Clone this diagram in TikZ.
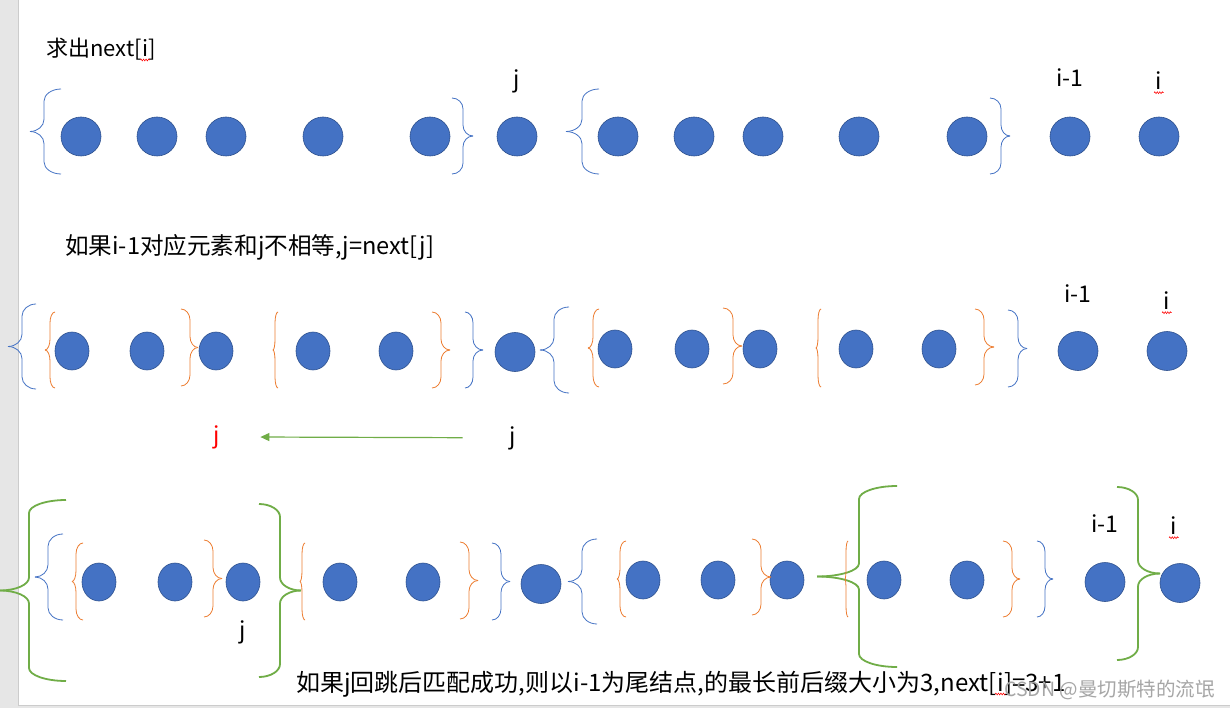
\documentclass[tikz,border=0pt]{standalone}
\usepackage{fontspec}
\setmainfont{Noto Sans CJK SC}
\usetikzlibrary{arrows.meta,shapes.geometric,positioning,decorations.pathmorphing}

\definecolor{dotblue}{HTML}{4472C4}
\definecolor{dotedge}{HTML}{2F528F}
\definecolor{brorange}{HTML}{ED7D31}
\definecolor{brgreen}{HTML}{70AD47}
\definecolor{pagegray}{HTML}{E6E6E6}

% brace: style, x tip, x spine, x ends, y top, y bottom
\newcommand{\curlybr}[6]{%
  \pgfmathsetmacro{\brym}{(#5+#6)/2}%
  \pgfmathsetmacro{\brrv}{min(13,(#6-#5)/7)}%
  \draw[#1] (#4,#5) .. controls ({#4-0.55*(#4-#3)},#5) and (#3,{#5+0.45*\brrv}) .. (#3,{#5+\brrv})
    -- (#3,{\brym-\brrv}) .. controls (#3,{\brym-0.45*\brrv}) and ({#2+0.55*(#3-#2)},\brym) .. (#2,\brym);
  \draw[#1] (#4,#6) .. controls ({#4-0.55*(#4-#3)},#6) and (#3,{#6-0.45*\brrv}) .. (#3,{#6-\brrv})
    -- (#3,{\brym+\brrv}) .. controls (#3,{\brym+0.45*\brrv}) and ({#2+0.55*(#3-#2)},\brym) .. (#2,\brym);
}
% red spell-check wave under a node
\newcommand{\squig}[1]{%
  \draw[squig] ([xshift=-1.5pt,yshift=-3pt]#1.base west) -- ([xshift=1.5pt,yshift=-3pt]#1.base east);
}

\begin{document}
\begin{tikzpicture}[x=1pt,y=-1pt,>={Triangle[length=9pt,width=8pt]},
    dot/.style={ellipse,fill=dotblue,draw=dotedge,line width=0.6pt,inner sep=0pt,minimum width=40pt,minimum height=39pt},
    sdot/.style={dot,minimum width=34pt,minimum height=38pt},
    txt/.style={inner sep=0pt,font=\fontsize{23}{28}\selectfont},
    title/.style={txt,font=\fontsize{22}{27}\selectfont},
    line2/.style={txt,font=\fontsize{23.6}{28}\selectfont},
    line3/.style={txt,font=\fontsize{24}{29}\selectfont},
    wmark/.style={inner sep=0pt,font=\fontsize{19.5}{24}\selectfont,text=black!35},
    bbr/.style={draw=dotblue,line width=0.8pt},
    obr/.style={draw=brorange,line width=0.8pt},
    gbr/.style={draw=brgreen,line width=1.8pt},
    squig/.style={red,line width=0.5pt,decorate,decoration={zigzag,segment length=2.5pt,amplitude=1pt}},
    arr/.style={->,draw=brgreen,line width=1.2pt,shorten <=47pt,shorten >=40pt}]

  % page
  \useasboundingbox (0,0) rectangle (1230,708);
  \fill[white] (0,0) rectangle (1230,708);
  \fill[pagegray] (0,0) rectangle (18,708);
  \fill[pagegray] (0,705) rectangle (1230,708);
  \draw[black!20] (18.5,0) -- (18.5,705) -- (1230,705);

  \node[title,anchor=base west] (T1) at (46,57) {求出next[};
  \node[title,anchor=base west] (T1i) at (T1.base east) {i};
  \node[title,anchor=base west] (T1e) at (T1i.base east) {]};
  \squig{T1i}

  % row 1
  \node[dot] (A1) at (81,136.5) {};
  \node[dot] (A2) at (157,136.5) {};
  \node[dot] (A3) at (226,136.5) {};
  \node[dot] (A4) at (323,136.5) {};
  \node[dot] (A5) at (430,136.5) {};
  \node[dot] (A6) at (517,136.5) {};
  \node[dot] (A7) at (618,136.5) {};
  \node[dot] (A8) at (694,136.5) {};
  \node[dot] (A9) at (763,136.5) {};
  \node[dot] (A10) at (859,136.5) {};
  \node[dot] (A11) at (967,136.5) {};
  \node[dot] (A12) at (1070,136.5) {};
  \node[dot] (A13) at (1159,136.5) {};
  \node[txt,above=29pt of A6,anchor=base] (J1) {j};
  \node[txt,above=30pt of A12,anchor=base] (Im1) {i-1};
  \node[txt,above=27pt of A13,anchor=base] (I1) {i};
  \squig{I1}
  \curlybr{bbr}{30}{44}{61}{89}{174}
  \curlybr{bbr}{473}{463}{452}{98}{174}
  \curlybr{bbr}{566}{582}{599}{89}{174}
  \curlybr{bbr}{1010}{1001}{990}{98}{174}

  \node[line2,anchor=base west] (T2) at (65,255) {如果i-1对应元素和j不相等,j=next[j]};

  % row 2
  \node[sdot] (B1) at (72,351) {};
  \node[sdot] (B2) at (147,351) {};
  \node[sdot] (B3) at (216,351) {};
  \node[sdot] (B4) at (313,351) {};
  \node[sdot] (B5) at (396,351) {};
  \node[dot] (B6) at (515,352) {};
  \node[sdot] (B7) at (615,349) {};
  \node[sdot] (B8) at (692,349) {};
  \node[sdot] (B9) at (760,349) {};
  \node[sdot] (B10) at (856,349) {};
  \node[sdot] (B11) at (939,349) {};
  \node[dot] (B12) at (1078,351) {};
  \node[dot] (B13) at (1167,351) {};
  \node[txt,above=28.5pt of B12,anchor=base] (Im2) {i-1};
  \node[txt,above=21.5pt of B13,anchor=base] (I2) {i};
  \squig{I2}
  \curlybr{bbr}{8}{22}{36}{304}{389}
  \curlybr{obr}{45}{50}{55}{312}{388}
  \curlybr{obr}{198}{190}{181}{309}{386}
  \curlybr{obr}{273}{275}{278}{312}{388}
  \curlybr{obr}{450}{441}{432}{312}{388}
  \curlybr{bbr}{483}{473}{465}{312}{388}
  \curlybr{bbr}{540}{554}{569}{307}{393}
  \curlybr{obr}{588}{593}{599}{309}{387}
  \curlybr{obr}{742}{733}{723}{308}{384}
  \curlybr{obr}{816}{818}{821}{309}{387}
  \curlybr{obr}{994}{984}{975}{309}{385}
  \curlybr{bbr}{1027}{1018}{1008}{310}{387}

  \node[txt,text=red,anchor=base] (Jr) at (217,443) {j};
  \node[txt,anchor=base] (Jb) at (513,444) {j};
  \draw[arr] (Jb) -- (Jr);

  % row 3
  \node[sdot] (C1) at (99,582) {};
  \node[sdot] (C2) at (175,582) {};
  \node[sdot] (C3) at (243,582) {};
  \node[sdot] (C4) at (340,582) {};
  \node[sdot] (C5) at (423,582) {};
  \node[dot] (C6) at (541,584) {};
  \node[sdot] (C7) at (643,580) {};
  \node[sdot] (C8) at (718,580) {};
  \node[sdot] (C9) at (787,580) {};
  \node[sdot] (C10) at (884,580) {};
  \node[sdot] (C11) at (967,580) {};
  \node[dot] (C12) at (1105,582) {};
  \node[dot] (C13) at (1180,583) {};
  \node[txt,below=37pt of C3,anchor=base] (J3) {j};
  \node[txt,above=29.5pt of C12,anchor=base] (Im3) {i-1};
  \node[txt,above=28.5pt of C13,anchor=base,xshift=-6pt] (I3) {i};
  \squig{I3}
  \curlybr{gbr}{0}{29}{66}{500}{681}
  \curlybr{bbr}{35}{48}{63}{534}{620}
  \curlybr{obr}{72}{76}{83}{543}{620}
  \curlybr{obr}{222}{213}{204}{540}{617}
  \curlybr{gbr}{301}{280}{259}{504}{677}
  \curlybr{obr}{300}{302}{305}{543}{620}
  \curlybr{obr}{478}{469}{460}{542}{619}
  \curlybr{bbr}{510}{501}{492}{543}{620}
  \curlybr{bbr}{568}{582}{597}{539}{624}
  \curlybr{obr}{617}{620}{626}{541}{617}
  \curlybr{obr}{771}{761}{752}{539}{615}
  \curlybr{gbr}{817}{859}{897}{486}{667}
  \curlybr{obr}{845}{846}{848}{541}{617}
  \curlybr{obr}{1020}{1012}{1003}{541}{617}
  \curlybr{bbr}{1053}{1045}{1037}{541}{617}
  \curlybr{gbr}{1160}{1138}{1117}{487}{660}

  \node[line3,anchor=base west] (T3) at (296,691) {如果j回跳后匹配成功,则以i-1为尾结点,的最长前后缀大小为3,next[};
  \node[line3,anchor=base west] (T3i) at (T3.base east) {i};
  \node[line3,anchor=base west] (T3e) at (T3i.base east) {]=3+1};
  \squig{T3i}
  \node[wmark,anchor=base west] (W) at (1004,696) {CSDN @曼切斯特的流氓};
\end{tikzpicture}
\end{document}
